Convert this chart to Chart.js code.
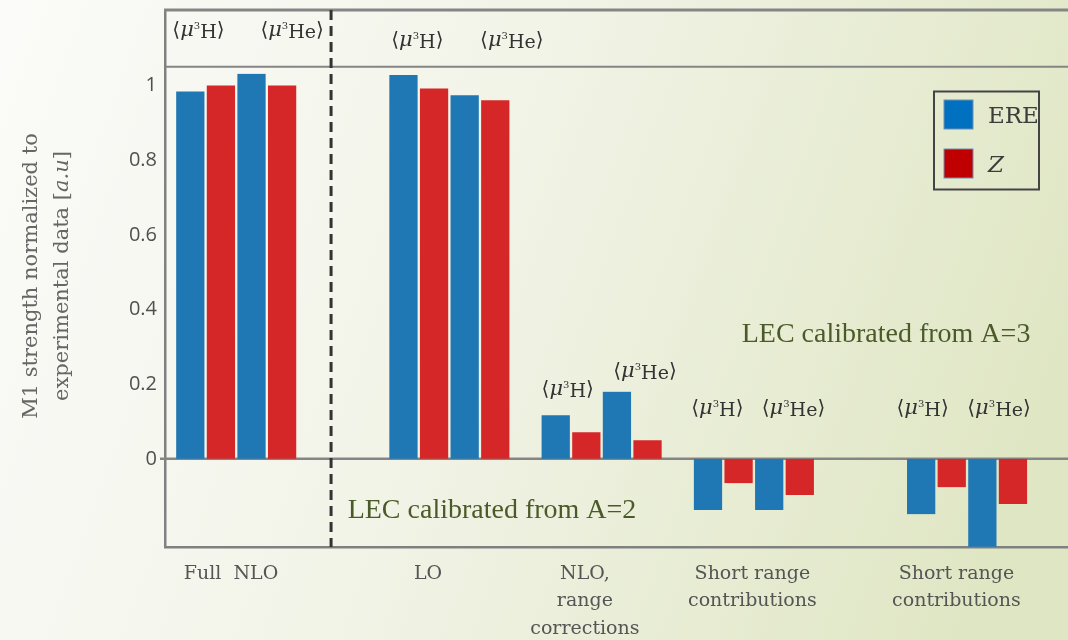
<!DOCTYPE html>
<html>
<head>
<meta charset="utf-8">
<script src="https://cdn.jsdelivr.net/npm/chart.js@4/dist/chart.umd.min.js"></script>
<style>
  html, body { margin: 0; padding: 0; background: #fafaf7; }
  canvas { display: block; }
</style>
</head>
<body>
<canvas id="m1-chart" width="1068" height="640"></canvas>
<script>
// ---------------- values ----------------
const groups = [
  ['Full  NLO'],
  ['LO'],
  ['NLO,', 'range', 'corrections'],
  ['Short range', 'contributions'],
  ['Short range', 'contributions'],
]
const seriesNames = ['ERE', 'Z']
const nuclei = ['H', 'He']

// M1 strength, normalized to experiment
const ereH = [0.984, 1.028, 0.117, -0.137, -0.148]
const zH = [1.0, 0.992, 0.071, -0.065, -0.076]
const ereHe = [1.031, 0.974, 0.18, -0.137, -0.235]
const zHe = [1.0, 0.96, 0.05, -0.097, -0.121]

const yTicks = [0, 0.2, 0.4, 0.6, 0.8, 1]
const yTickLabels = ['0', '0.2', '0.4', '0.6', '0.8', '1']

// ---------------- layout, in axis units ----------------
const groupAt = [0, 1.4, 2.4, 3.4, 4.8] // group centres on the x axis
const labelAt = [-0.034, 1.26, 2.29, 3.39, 4.73] // where the category names sit
const splitAt = 0.623 // dashed separator
const headerAt = 1.05 // line under the top labels

// <mu> tags over the bar pairs: [x, y, nucleus index]
const tags = [
  [-0.248, 1.149, 0], [0.367, 1.149, 1],
  [1.19, 1.122, 0], [1.81, 1.122, 1],
  [2.177, 0.187, 0], [2.685, 0.236, 1],
  [3.16, 0.135, 0], [3.66, 0.135, 1],
  [4.508, 0.135, 0], [5.01, 0.135, 1],
]
const notes = [
  { text: 'LEC calibrated from A=2', x: 0.732, y: -0.158 },
  { text: 'LEC calibrated from A=3', x: 3.32, y: 0.314 },
]

const BLUE = '#1f77b4'
const RED = '#d62728'
const SERIF = '"DejaVu Serif", "DejaVu Sans", serif'

// draw a row of differently styled text pieces, centred on x
function drawRuns(ctx, runs, x, y) {
  let total = 0
  runs.forEach((r) => {
    ctx.font = r.font
    r.w = ctx.measureText(r.t).width
    total += r.w
  })
  let cx = x - total / 2
  ctx.textAlign = 'left'
  runs.forEach((r) => {
    ctx.font = r.font
    ctx.fillText(r.t, cx, y + (r.dy || 0))
    cx += r.w
  })
}

const decor = {
  id: 'decor',
  beforeDraw(chart) {
    const { ctx, width, height } = chart
    const g = ctx.createLinearGradient(0, 0, width, height * 0.6)
    g.addColorStop(0, '#fbfbf9')
    g.addColorStop(0.45, '#f2f4e8')
    g.addColorStop(1, '#dfe6c3')
    ctx.save()
    ctx.fillStyle = g
    ctx.fillRect(0, 0, width, height)
    ctx.restore()
  },
  beforeDatasetsDraw(chart) {
    const { ctx, chartArea: a, scales } = chart
    const y0 = scales.y.getPixelForValue(0)
    const yh = scales.y.getPixelForValue(headerAt)
    const xs = scales.x.getPixelForValue(splitAt)
    ctx.save()
    ctx.strokeStyle = '#858585'
    // top frame line
    ctx.lineWidth = 3
    ctx.beginPath()
    ctx.moveTo(a.left - 1, a.top)
    ctx.lineTo(a.right, a.top)
    ctx.stroke()
    // header divider
    ctx.lineWidth = 2
    ctx.beginPath()
    ctx.moveTo(a.left, yh)
    ctx.lineTo(a.right, yh)
    ctx.stroke()
    // zero line with small tick
    ctx.lineWidth = 2.5
    ctx.beginPath()
    ctx.moveTo(a.left - 5, y0)
    ctx.lineTo(a.right, y0)
    ctx.stroke()
    // dashed separator
    ctx.strokeStyle = '#333'
    ctx.lineWidth = 3
    ctx.setLineDash([10, 6])
    ctx.beginPath()
    ctx.moveTo(xs, a.top)
    ctx.lineTo(xs, a.bottom)
    ctx.stroke()
    ctx.restore()
  },
  afterDatasetsDraw(chart) {
    const { ctx, scales } = chart
    ctx.save()
    ctx.textBaseline = 'alphabetic'

    // <mu_3H>, <mu_3He> tags
    ctx.fillStyle = '#333'
    tags.forEach(([x, y, n]) => {
      const px = scales.x.getPixelForValue(x)
      const py = scales.y.getPixelForValue(y) + 6
      drawRuns(ctx, [
        { t: '\u27E8', font: '20px ' + SERIF },
        { t: '\u03BC', font: 'italic 21px ' + SERIF },
        { t: '3', font: '10px ' + SERIF, dy: -7 },
        { t: nuclei[n], font: '19px ' + SERIF, dy: 2 },
        { t: '\u27E9', font: '20px ' + SERIF },
      ], px, py)
    })

    // calibration notes
    ctx.fillStyle = '#4a5a28'
    ctx.font = '28px "Liberation Serif", serif'
    ctx.textAlign = 'left'
    notes.forEach((n) => {
      ctx.fillText(n.text, scales.x.getPixelForValue(n.x), scales.y.getPixelForValue(n.y))
    })

    // legend box
    const legendColors = ['#0070c0', '#c00000']
    ctx.strokeStyle = '#444'
    ctx.lineWidth = 2
    ctx.strokeRect(934, 91.5, 105, 98)
    seriesNames.forEach((name, i) => {
      const top = 100 + i * 49
      ctx.fillStyle = legendColors[i]
      ctx.fillRect(944, top, 29, 29)
      ctx.strokeStyle = '#6f8fb0'
      ctx.lineWidth = 1
      ctx.strokeRect(944, top, 29, 29)
      ctx.fillStyle = '#3c3c3c'
      ctx.font = (i === 1 ? 'italic ' : '') + '23px ' + SERIF
      ctx.fillText(name, 988, top + 23)
    })

    // y axis title, two lines, rotated
    ctx.fillStyle = '#666'
    ctx.translate(0, 276)
    ctx.rotate(-Math.PI / 2)
    drawRuns(ctx, [{ t: 'M1 strength normalized to', font: '21px ' + SERIF }], 0, 37)
    drawRuns(ctx, [
      { t: 'experimental data [', font: '21px ' + SERIF },
      { t: 'a.u', font: 'italic 21px ' + SERIF },
      { t: ']', font: '21px ' + SERIF },
    ], 0, 68)
    ctx.restore()
  },
}

const bar = (label, values, color) => ({
  label,
  data: groupAt.map((x, i) => ({ x, y: values[i] })),
  backgroundColor: color,
  borderColor: 'rgba(0,0,0,0)',
  borderWidth: { left: 1.5, right: 1.5, top: 0, bottom: 0 },
  barThickness: 30.6,
})

new Chart(document.getElementById('m1-chart'), {
  type: 'bar',
  data: {
    datasets: [
      bar(seriesNames[0] + ' 3H', ereH, BLUE),
      bar(seriesNames[1] + ' 3H', zH, RED),
      bar(seriesNames[0] + ' 3He', ereHe, BLUE),
      bar(seriesNames[1] + ' 3He', zHe, RED),
    ],
  },
  options: {
    responsive: false,
    animation: false,
    devicePixelRatio: 1,
    layout: { padding: { top: 10, left: 0, right: 0, bottom: 0 } },
    plugins: {
      legend: { display: false },
      tooltip: { enabled: false },
    },
    scales: {
      x: {
        type: 'linear',
        offset: false,
        min: -0.4677,
        max: 5.463,
        grid: { display: false, offset: false },
        border: { display: true, color: '#808080', width: 2.5 },
        afterBuildTicks: (s) => {
          s.ticks = labelAt.map((v) => ({ value: v }))
        },
        afterFit: (s) => {
          s.height = 93
          s.paddingLeft = 0
          s.paddingRight = 0
        },
        ticks: {
          autoSkip: false,
          maxRotation: 0,
          padding: 5,
          color: '#555',
          font: { family: SERIF, size: 19, lineHeight: 1.45 },
          callback: (v, i) => groups[i],
        },
      },
      y: {
        min: -0.236,
        max: 1.202,
        grid: { display: false },
        border: { display: true, color: '#808080', width: 2.5 },
        afterBuildTicks: (s) => {
          s.ticks = yTicks.map((v) => ({ value: v }))
        },
        afterFit: (s) => {
          s.width = 165
          s.paddingTop = 0
          s.paddingBottom = 0
        },
        ticks: {
          padding: 0,
          color: '#505050',
          font: { family: 'Open Sans', size: 20 },
          callback: (v, i) => yTickLabels[i],
        },
      },
    },
  },
  plugins: [decor],
})
</script>
</body>
</html>
